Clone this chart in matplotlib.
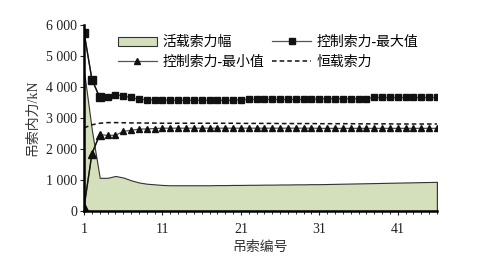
import matplotlib
matplotlib.use("Agg")
import matplotlib.pyplot as plt
import numpy as np
from matplotlib.ticker import MultipleLocator, FixedLocator, FuncFormatter

plt.rcParams['font.family'] = ['Liberation Serif', 'Noto Sans CJK SC']

cable_no = list(range(1, 47))

live_amp = [4500, 2600, 1070, 1070, 1130, 1080, 990, 920, 880, 860,
            840, 830, 830, 830, 830, 830, 830, 835, 835, 840,
            840, 845, 845, 850, 850, 855, 855, 860, 860, 865,
            865, 870, 875, 880, 885, 890, 895, 900, 905, 910,
            915, 920, 925, 930, 935, 940]

ctrl_max = [5755, 4240, 3660, 3680, 3750, 3710, 3660, 3600, 3590, 3580,
            3575, 3570, 3570, 3570, 3570, 3570, 3570, 3570, 3570, 3570,
            3590, 3600, 3600, 3600, 3600, 3600, 3600, 3600, 3600, 3600,
            3620, 3620, 3620, 3620, 3620, 3620, 3620, 3660, 3660, 3660,
            3660, 3660, 3660, 3660, 3660, 3660]

ctrl_min = [130, 1850, 2460, 2440, 2440, 2570, 2600, 2640, 2645, 2660,
            2670, 2670, 2670, 2670, 2670, 2670, 2670, 2670, 2670, 2670,
            2670, 2670, 2670, 2670, 2670, 2670, 2670, 2670, 2670, 2670,
            2665, 2665, 2665, 2665, 2665, 2665, 2665, 2665, 2665, 2665,
            2665, 2665, 2665, 2665, 2665, 2665]

dead = [2680, 2780, 2830, 2850, 2850, 2845, 2840, 2840, 2835, 2835,
        2830, 2830, 2830, 2830, 2830, 2830, 2830, 2830, 2830, 2830,
        2825, 2825, 2825, 2825, 2825, 2820, 2820, 2820, 2820, 2820,
        2815, 2815, 2815, 2815, 2815, 2810, 2810, 2810, 2810, 2810,
        2805, 2805, 2805, 2805, 2805, 2805]

x_major = [1, 11, 21, 31, 41]
y_major = [0, 1000, 2000, 3000, 4000, 5000, 6000]

fig = plt.figure(figsize=(4.86, 2.57), dpi=100)
ax = fig.add_axes([0.173, 0.179, 0.726, 0.724])

h_fill = ax.fill_between(cable_no, 0, live_amp, facecolor='#d4dfbb',
                         edgecolor='#333333', linewidth=0.8, label='活载索力幅')
ax.plot([cable_no[-1], cable_no[-1]], [0, live_amp[-1]], color='#333333', lw=0.8)

h_min, = ax.plot(cable_no, ctrl_min, color='#555555', lw=0.9, marker='^',
                 markersize=4.5, markerfacecolor='#111111', markeredgecolor='#111111',
                 label='控制索力-最小值')
h_max, = ax.plot(cable_no, ctrl_max, color='#555555', lw=0.9, marker='s',
                 markersize=4.0, markerfacecolor='#111111', markeredgecolor='#111111',
                 label='控制索力-最大值')
ax.plot(cable_no[:3], ctrl_max[:3], color='#111111', lw=1.0, marker='s', markersize=6,
        markerfacecolor='#111111', markeredgecolor='#111111')
ax.plot(cable_no[:3], ctrl_min[:3], color='#111111', lw=1.0, marker='^', markersize=6,
        markerfacecolor='#111111', markeredgecolor='#111111')
h_dead, = ax.plot(cable_no, dead, color='#111111', lw=1.1, ls=(0, (3, 2)), label='恒载索力')

ax.set_xlim(1, 46)
ax.set_ylim(0, 6000)
ax.xaxis.set_major_locator(FixedLocator(x_major))
ax.xaxis.set_minor_locator(MultipleLocator(1))
ax.yaxis.set_major_locator(FixedLocator(y_major))
ax.yaxis.set_major_formatter(FuncFormatter(lambda v, p: f"{int(v):,}".replace(',', ' ')))

for s in ['top', 'right']:
    ax.spines[s].set_visible(False)
ax.spines['bottom'].set_linewidth(1.8)
ax.spines['left'].set_linewidth(1.8)
ax.tick_params(axis='y', which='major', direction='out', length=3, width=0.8,
               labelsize=10, pad=2, colors='#222222')
ax.tick_params(axis='x', which='major', direction='out', length=3, width=0.8,
               labelsize=10, pad=6, colors='#222222')
ax.tick_params(axis='x', which='minor', direction='out', length=2.5, width=0.6)

ax.set_ylabel('吊索内力/kN', fontsize=10, color='#333333', labelpad=5)
ax.set_xlabel('吊索编号', fontsize=10, color='#333333', labelpad=3)

leg = ax.legend(handles=[h_fill, h_min, h_max, h_dead], ncol=2, loc='upper left',
                bbox_to_anchor=(0.08, 0.97), frameon=False, fontsize=10,
                handlelength=2.8, handleheight=0.7, columnspacing=0.6,
                labelspacing=0.45, handletextpad=0.4, borderaxespad=0)

fig.savefig('out.png', dpi=100)
